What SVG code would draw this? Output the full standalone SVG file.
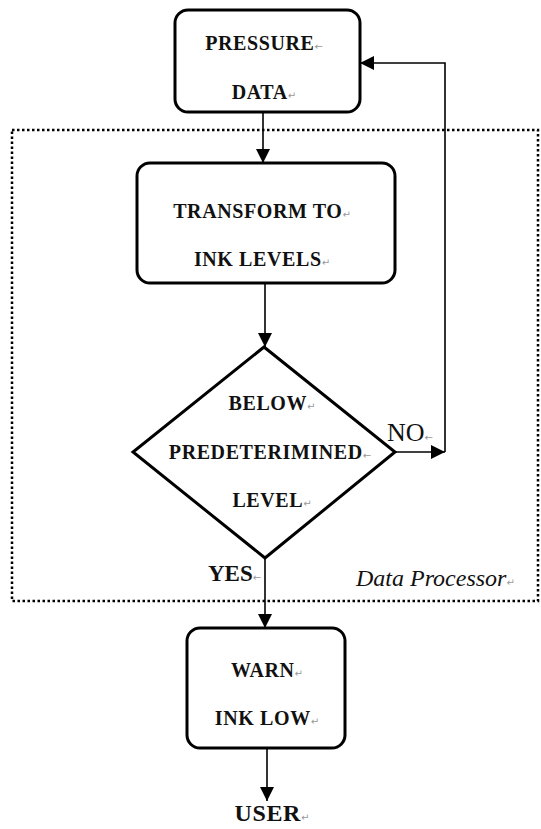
<svg xmlns="http://www.w3.org/2000/svg" width="541" height="829" viewBox="0 0 541 829">
  <style>
    .box { fill: #fff; stroke: #000; stroke-width: 3; }
    .frame { fill: none; stroke: #000; stroke-width: 2.5; stroke-dasharray: 2.5 2.5; }
    .wire { fill: none; stroke: #000; stroke-width: 1.6; }
    .lbl { font-family: "Liberation Serif", "Times New Roman", serif; font-weight: bold; font-size: 20px; letter-spacing: 0.6px; fill: #111; text-anchor: middle; }
    .cap { font-family: "Liberation Serif", "Times New Roman", serif; font-size: 26px; fill: #111; }
    .note { font-family: "Liberation Serif", "Times New Roman", serif; font-style: italic; font-size: 24px; fill: #111; }
    .mark { font-family: "DejaVu Sans", sans-serif; font-weight: normal; font-style: normal; font-size: 10px; fill: #999; letter-spacing: 0; }
  </style>
  <defs>
    <marker id="head" viewBox="0 0 14 14" refX="14" refY="7" markerWidth="14" markerHeight="14" markerUnits="userSpaceOnUse" orient="auto">
      <path d="M0,0 L14,7 L0,14 Z" fill="#000"/>
    </marker>
  </defs>
  <rect width="541" height="829" fill="#fff"/>

  <!-- processing boundary -->
  <g id="data-processor">
    <rect class="frame" x="12" y="130" width="526" height="471"/>
    <text class="note" x="356" y="586">Data Processor<tspan class="mark">↵</tspan></text>
  </g>

  <g id="connectors">
    <line class="wire" x1="263" y1="112" x2="263" y2="163" marker-end="url(#head)"/>
    <line class="wire" x1="265" y1="283" x2="265" y2="347" marker-end="url(#head)"/>
    <polyline class="wire" points="395,452 445,452" marker-end="url(#head)"/>
    <polyline class="wire" points="445,452 445,63 360,63" marker-end="url(#head)"/>
    <line class="wire" x1="265" y1="558" x2="265" y2="628" marker-end="url(#head)"/>
    <line class="wire" x1="267" y1="748" x2="267" y2="801" marker-end="url(#head)"/>
    <text class="cap" x="387" y="441">NO<tspan class="mark">←</tspan></text>
    <text class="cap" x="208" y="581" style="font-weight:bold;font-size:23px">YES<tspan class="mark">←</tspan></text>
  </g>

  <g id="pressure-data">
    <rect class="box" x="175" y="10" width="185" height="102" rx="13"/>
    <text class="lbl" x="264" y="50">PRESSURE<tspan class="mark">←</tspan></text>
    <text class="lbl" x="264" y="99">DATA<tspan class="mark">↵</tspan></text>
  </g>

  <g id="transform">
    <rect class="box" x="137" y="163" width="258" height="120" rx="13"/>
    <text class="lbl" x="262" y="218">TRANSFORM TO<tspan class="mark">↵</tspan></text>
    <text class="lbl" x="262" y="266">INK LEVELS<tspan class="mark">↵</tspan></text>
  </g>

  <g id="decision">
    <polygon class="box" points="264,347 395,452 265,558 133,452"/>
    <text class="lbl" x="272" y="410">BELOW<tspan class="mark">↵</tspan></text>
    <text class="lbl" x="270" y="459">PREDETERIMINED<tspan class="mark">←</tspan></text>
    <text class="lbl" x="272" y="507">LEVEL<tspan class="mark">↵</tspan></text>
  </g>

  <g id="warn">
    <rect class="box" x="187" y="628" width="158" height="120" rx="13"/>
    <text class="lbl" x="267" y="677">WARN<tspan class="mark">↵</tspan></text>
    <text class="lbl" x="267" y="725">INK LOW<tspan class="mark">↵</tspan></text>
  </g>

  <g id="user">
    <text class="lbl" x="272" y="821" style="font-size:24px">USER<tspan class="mark">↵</tspan></text>
  </g>
</svg>
